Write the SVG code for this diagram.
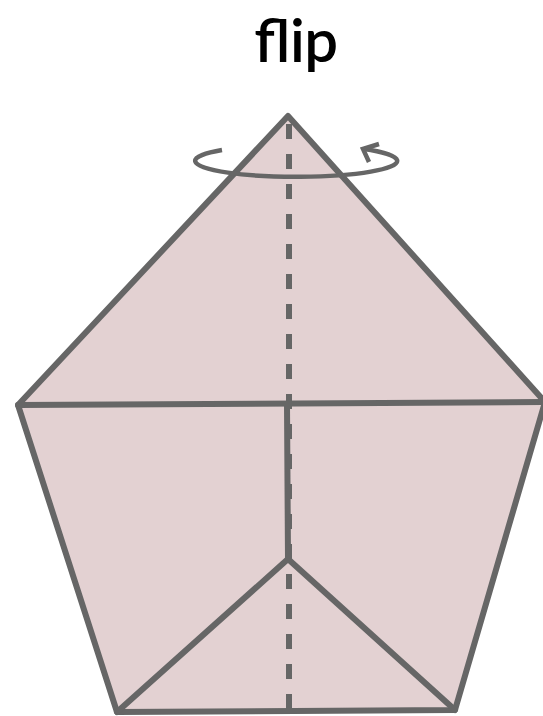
<svg xmlns="http://www.w3.org/2000/svg" width="543" height="716" viewBox="0 0 543 716">
<style>
.ln{fill:none;stroke:#666666;stroke-width:6;stroke-linejoin:round;stroke-linecap:round}
.dash{fill:none;stroke:#666666;stroke-width:6;stroke-dasharray:15 15}
.face{fill:#e3d1d2;stroke:#666666;stroke-width:6;stroke-linejoin:round}
.rot{fill:none;stroke:#666666;stroke-width:4.5;stroke-linecap:butt;stroke-linejoin:miter}
text{font-family:Lato,"Open Sans",sans-serif;font-size:60px;font-weight:600;fill:#000}
</style>
<text x="296" y="62" text-anchor="middle" textLength="84" lengthAdjust="spacing">flip</text>
<g id="paper">
<polygon class="face" points="288,116 545,402 455,710 117,712 18,405"/>
<path class="ln" d="M18,405 L545,402"/>
<path class="ln" d="M287,405 L288,559"/>
<path class="ln" d="M117,712 L288,559 L455,710"/>
</g>
<g id="fold">
<path class="dash" d="M289,124 L289,712"/>
</g>
<g id="rotation">
<path class="rot" d="M222,150 A101,16 0 1 0 364,149"/>
<path class="rot" d="M379,144 L363,149 L369,162"/>
</g>
</svg>
